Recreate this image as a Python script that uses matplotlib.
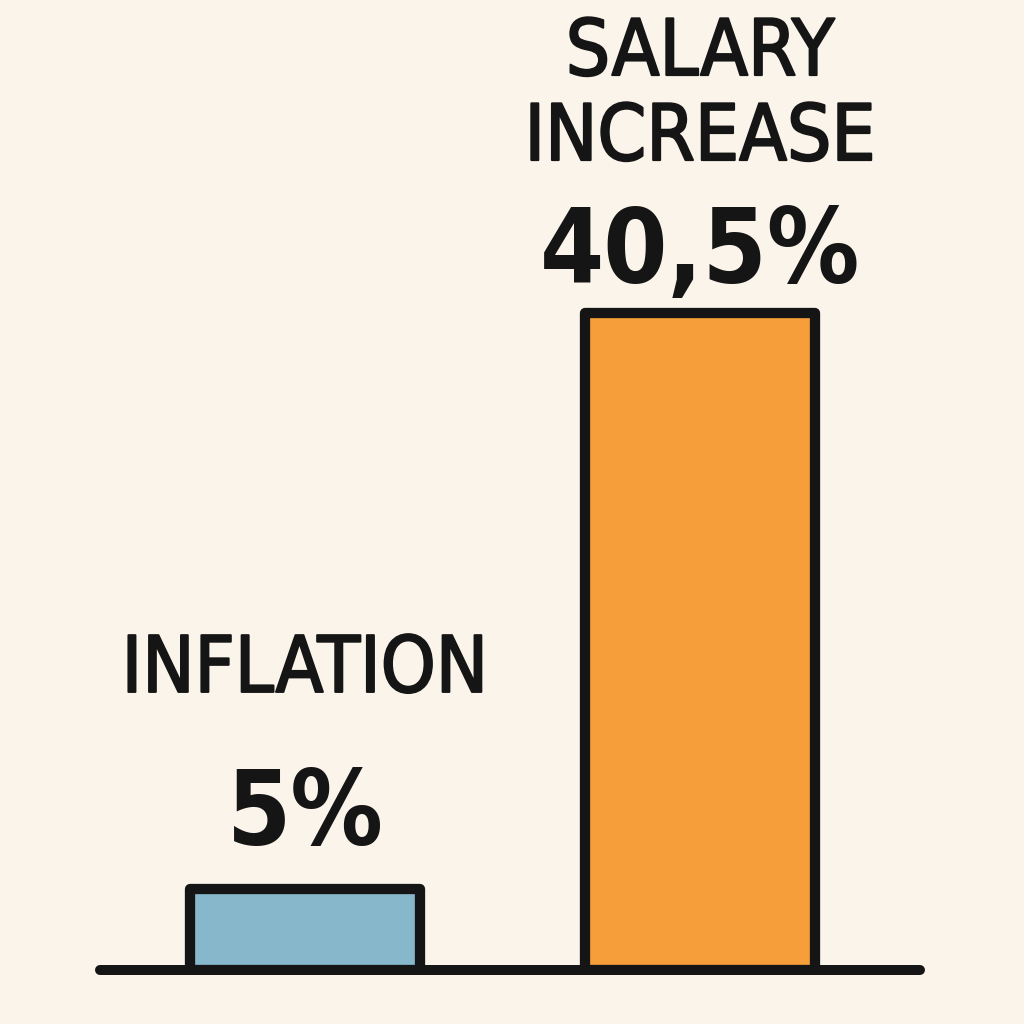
import matplotlib
matplotlib.use('Agg')
import matplotlib.pyplot as plt
import matplotlib.patheffects as pe
from matplotlib import font_manager

categories = ['INFLATION', 'SALARY\nINCREASE']
values = [5, 40.5]
value_labels = ['5%', '40,5%']
colors = ['#86B7CB', '#F59E3A']

bg = '#FAF4EA'
ink = '#151515'

# pick a narrow font if we have one
names = set(f.name for f in font_manager.fontManager.ttflist)
stretch = 'normal'
if 'Liberation Sans Narrow' in names:
    family = 'Liberation Sans Narrow'
else:
    family = 'DejaVu Sans'
    stretch = 'condensed'

fig = plt.figure(figsize=(10.24, 10.24), dpi=100, facecolor=bg)
# axes: y=0 at the baseline, full width
ax = fig.add_axes([0, 54 / 1024, 1, 970 / 1024])
ax.set_facecolor(bg)
ax.set_xlim(-0.772, 1.820)
ax.set_ylim(0, 59.8)
ax.axis('off')

x = [0, 1]
ax.bar(x, values, width=0.58, color=colors, edgecolor=ink, linewidth=7.4,
       joinstyle='round', zorder=2)

# baseline (not clipped by the axes edge)
ax.plot([-0.519, 1.557], [0, 0], color=ink, linewidth=7.2,
        solid_capstyle='round', zorder=3, clip_on=False)

# texts above the bars (offsets in pixels from bar top)
label_offsets = [[197], [238, 153]]
value_offsets = [44, 30]
thick = [pe.withStroke(linewidth=1.5, foreground=ink)]
for i in range(len(x)):
    lines = categories[i].split('\n')
    for line, off in zip(lines, label_offsets[i]):
        ax.annotate(line, xy=(x[i], values[i]), xytext=(0, off),
                    textcoords='offset pixels', ha='center', va='baseline',
                    fontsize=56, family=family, fontstretch=stretch,
                    color=ink, annotation_clip=False, path_effects=thick)
    ax.annotate(value_labels[i], xy=(x[i], values[i]), xytext=(0, value_offsets[i]),
                textcoords='offset pixels', ha='center', va='baseline',
                fontsize=74, fontweight='bold', family=family, fontstretch=stretch,
                color=ink, annotation_clip=False)

plt.savefig('out.png', dpi=100, facecolor=bg)
